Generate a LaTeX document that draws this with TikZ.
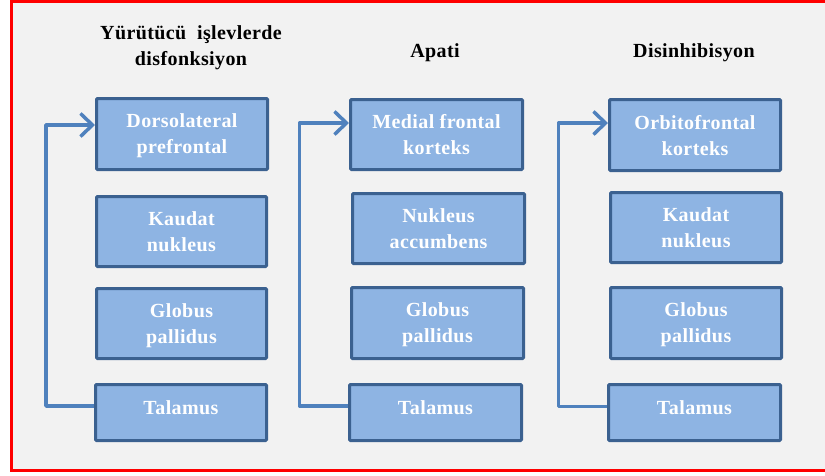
\documentclass[tikz,border=0pt]{standalone}
\usepackage{fontspec}
\setmainfont{Liberation Serif}[LetterSpace=2]
\usetikzlibrary{arrows.meta}
\definecolor{boxfill}{HTML}{8EB4E3}
\definecolor{boxedge}{HTML}{3B6190}
\definecolor{conncol}{HTML}{4F81BD}
\definecolor{bgcol}{HTML}{F2F2F2}
\tikzset{
  stagebox/.style={draw=boxedge, line width=3pt, fill=boxfill, rounded corners=1pt,
    text=white, font=\bfseries\fontsize{20}{26}\selectfont, align=center, inner sep=0pt,
    text depth=0pt},
  titletext/.style={font=\bfseries\fontsize{20}{26}\selectfont, align=center, text=black},
  conn/.style={draw=conncol, line width=3.5pt, line join=round,
    -{Straight Barb[length=12pt,width=23pt,line width=3.5pt]}}
}
\begin{document}
\begin{tikzpicture}[x=1pt,y=-1pt]
\useasboundingbox (0,0) rectangle (825,475);
\draw[red, line width=3pt, fill=bgcol] (11.5,1) rectangle (840,470.5);

% titles
\node[titletext] (t1) at (191,48) {Yürütücü\ \ işlevlerde\\disfonksiyon};
\node[titletext] (t2) at (435,53) {Apati};
\node[titletext] (t3) at (694,53) {Disinhibisyon};

% column 1
\node[stagebox, minimum width=171pt, minimum height=71pt] (a1) at (182,134) {Dorsolateral\\prefrontal};
\node[stagebox, minimum width=170pt, minimum height=70pt] (a2) at (181.5,231.5) {Kaudat\\nukleus};
\node[stagebox, minimum width=170pt, minimum height=70pt] (a3) at (181.5,323.5) {Globus\\pallidus};
\node[stagebox, minimum width=171pt, minimum height=56pt] (a4) at (181,412.5) {\raisebox{9pt}{Talamus}};

% column 2
\node[stagebox, minimum width=172pt, minimum height=70pt] (b1) at (436.5,134.5) {Medial frontal\\korteks};
\node[stagebox, minimum width=172pt, minimum height=70pt] (b2) at (438.5,228.5) {Nukleus\\accumbens};
\node[stagebox, minimum width=172pt, minimum height=71pt] (b3) at (437.5,323) {Globus\\pallidus};
\node[stagebox, minimum width=172pt, minimum height=56pt] (b4) at (435.5,412.5) {\raisebox{9pt}{Talamus}};

% column 3
\node[stagebox, minimum width=171pt, minimum height=71pt] (c1) at (695,135) {Orbitofrontal\\korteks};
\node[stagebox, minimum width=171pt, minimum height=70pt] (c2) at (696,227.5) {Kaudat\\nukleus};
\node[stagebox, minimum width=171pt, minimum height=71pt] (c3) at (696,323) {Globus\\pallidus};
\node[stagebox, minimum width=172pt, minimum height=56pt] (c4) at (694.5,412.5) {\raisebox{9pt}{Talamus}};

% feedback connectors
\draw[conn] ([yshift=6.5pt]a4.west) -- ++(-48,0) |- ([yshift=9pt]a1.west);
\draw[conn] ([yshift=6.5pt]b4.west) -- ++(-48.5,0) |- ([yshift=11.5pt]b1.west);
\draw[conn] ([yshift=6pt]c4.west) -- ++(-48.5,0) |- ([yshift=12pt]c1.west);
\end{tikzpicture}
\end{document}
